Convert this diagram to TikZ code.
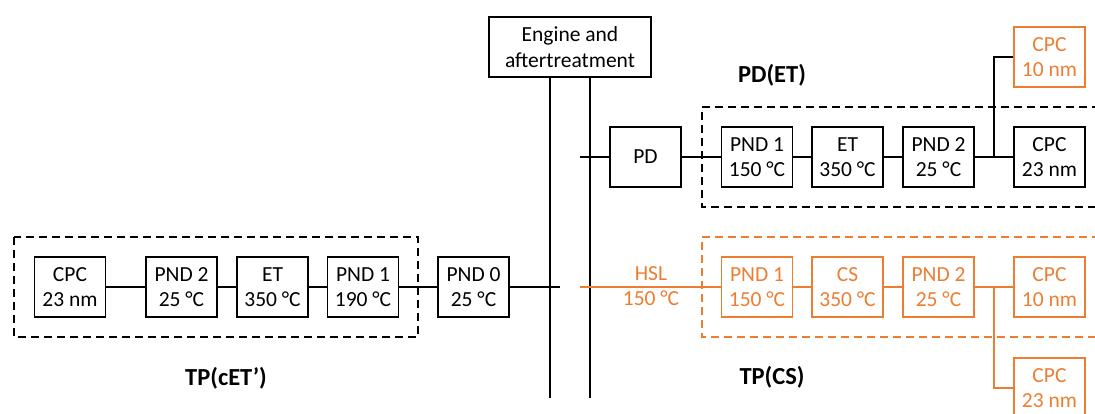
\documentclass[tikz,border=0pt]{standalone}
\usepackage{fontspec}
\setmainfont{Carlito}
\definecolor{orng}{RGB}{237,125,49}
\begin{document}
\begin{tikzpicture}[x=1pt,y=-1pt,
  line width=1.1pt,
  every node/.style={font=\fontsize{21.5}{25.5}\selectfont},
  blk/.style={draw, minimum width=71pt, minimum height=60pt, inner sep=0pt, align=center},
  oblk/.style={blk, draw=orng, text=orng},
  grp/.style={dashed, dash pattern=on 8pt off 5pt},
  lbl/.style={font=\fontsize{24.5}{28}\selectfont\bfseries}]
\useasboundingbox (0,0) rectangle (1095,413);
% engine
\node[blk, minimum width=162pt] (eng) at (570,47) {Engine and\\aftertreatment};
\coordinate (eLtop) at (550,77);
\coordinate (eRtop) at (590,77);
\coordinate (eLbot) at (550,398);
\coordinate (eRbot) at (590,398);
\draw (eLtop) -- (eLbot);
\draw (eRtop) -- (eRbot);
% left row
\draw[grp] (14,237) rectangle (418,337);
\node[blk] (lcpc) at (70,287) {CPC\\23 nm};
\node[blk] (lpnd2) at (181.5,287) {PND 2\\25 °C};
\node[blk] (let) at (272.5,287) {ET\\350 °C};
\node[blk] (lpnd1) at (363,287) {PND 1\\190 °C};
\node[blk] (lpnd0) at (473.5,287) {PND 0\\25 °C};
\coordinate (lend) at (560,287);
\draw (lcpc) -- (lpnd2) (lpnd2) -- (let) (let) -- (lpnd1) (lpnd1) -- (lpnd0) (lpnd0.east) -- (lend);
\node[lbl] (lbl1) at (226,378) {TP(cET’)};
% PD row
\draw[grp] (1100,107) -- (702,107) -- (702,207) -- (1100,207);
\node[blk] (pd) at (645.5,157) {PD};
\node[blk] (ppnd1) at (757,157) {PND 1\\150 °C};
\node[blk] (pet) at (847.5,157) {ET\\350 °C};
\node[blk] (ppnd2) at (938.5,157) {PND 2\\25 °C};
\node[blk] (pcpc23) at (1049.5,157) {CPC\\23 nm};
\node[oblk] (pcpc10) at (1049.5,57) {CPC\\10 nm};
\coordinate (pstart) at (580,157);
\coordinate (pj) at (994,157);
\draw (pstart) -- (pd.west) (pd) -- (ppnd1) (ppnd1) -- (pet) (pet) -- (ppnd2) (ppnd2) -- (pcpc23);
\draw (pj) |- (pcpc10.west);
\node[lbl] (lbl2) at (772,75) {PD(ET)};
% CS row
\draw[grp, orng] (1100,237) -- (702,237) -- (702,337) -- (1100,337);
\node[text=orng, align=center] (hsl) at (651,286) {HSL\\150 °C};
\node[oblk] (cpnd1) at (757,287) {PND 1\\150 °C};
\node[oblk] (ccs) at (847.5,287) {CS\\350 °C};
\node[oblk] (cpnd2) at (938.5,287) {PND 2\\25 °C};
\node[oblk] (ccpc10) at (1049.5,287) {CPC\\10 nm};
\node[oblk] (ccpc23) at (1049.5,388) {CPC\\23 nm};
\coordinate (cstart) at (580,287);
\coordinate (cj) at (994,287);
\draw[orng] (cstart) -- (cpnd1.west) (cpnd1) -- (ccs) (ccs) -- (cpnd2) (cpnd2) -- (ccpc10);
\draw[orng] (cj) |- (ccpc23.west);
\node[lbl] (lbl3) at (772,377) {TP(CS)};
\end{tikzpicture}
\end{document}
